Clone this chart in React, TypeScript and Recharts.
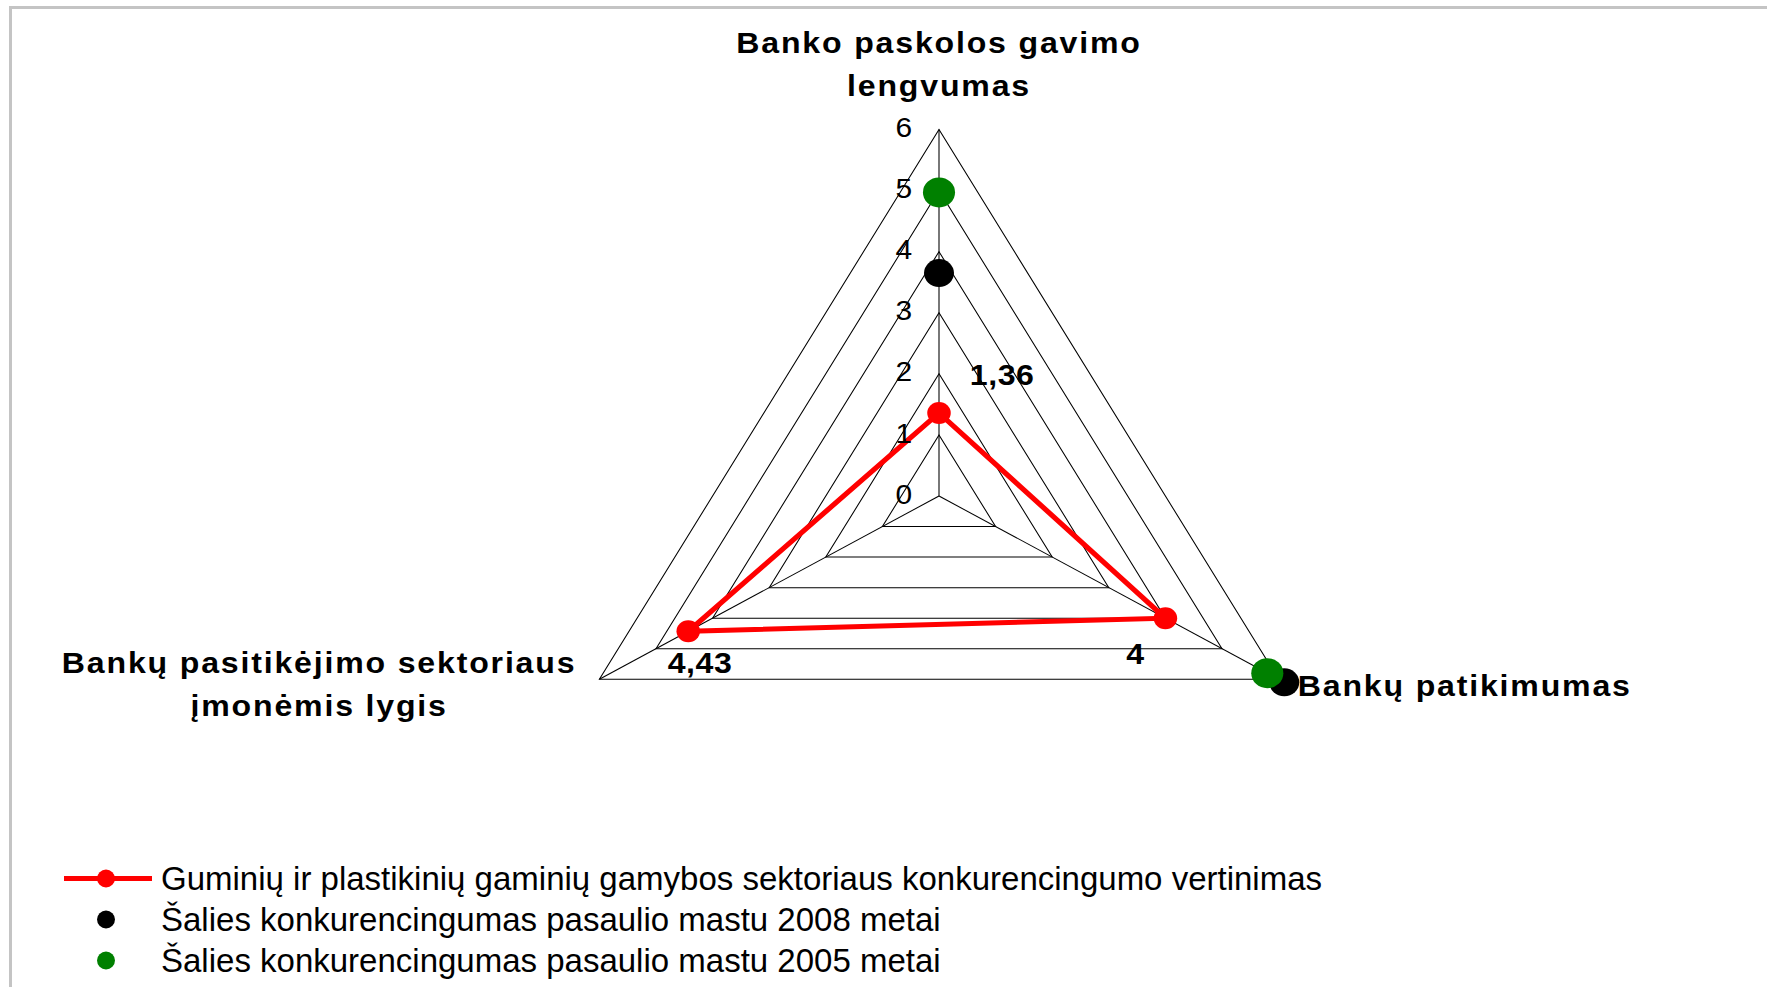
import React from 'react';
import { RadarChart, Radar, PolarGrid, PolarAngleAxis, PolarRadiusAxis, Legend, LabelList } from 'recharts';

const categoryLines = [
  ['Banko paskolos gavimo', 'lengvumas'],
  ['Bankų patikimumas'],
  ['Bankų pasitikėjimo sektoriaus', 'įmonėmis lygis'],
];
const categories = categoryLines.map((l) => l.join(' '));

const sectorValues = [1.36, 4, 4.43];
const values2008 = [3.65, 6.1, null];
const values2005 = [4.97, 5.8, null];
const radiusTicks = [0, 1, 2, 3, 4, 5, 6];

const seriesNames = [
  'Guminių ir plastikinių gaminių gamybos sektoriaus konkurencingumo vertinimas',
  'Šalies konkurencingumas pasaulio mastu 2008 metai',
  'Šalies konkurencingumas pasaulio mastu 2005 metai',
];

const data = categories.map((name, i) => ({
  name,
  sector: sectorValues[i],
  y2008: values2008[i],
  y2005: values2005[i],
}));

const FONT = '"Liberation Sans", Arial, sans-serif';
const RED = '#ff0000';
const GREEN = '#008000';
const CX = 939;
// the original plot is a bit wider than it is tall
const STRETCH = 1.07;

const axisLabelPos = [
  { dx: 0, dy: -79, anchor: 'middle' },
  { dx: 11, dy: 3, anchor: 'start' },
  { dx: -255, dy: -20, anchor: 'middle' },
];
const valueLabelPos = [
  { dx: 59, dy: -38 },
  { dx: -28, dy: 36 },
  { dx: 11, dy: 32 },
];

function AngleTick(props: any) {
  const { x, y, index } = props;
  const pos = axisLabelPos[index];
  const lines = categoryLines[index];
  return (
    <g>
      {lines.map((line, i) => (
        <text
          key={i}
          x={x + pos.dx}
          y={y + pos.dy + i * 43}
          textAnchor={pos.anchor}
          dominantBaseline="central"
          fontFamily={FONT}
          fontWeight="bold"
          fontSize={30}
          letterSpacing={1.7}
          fill="#000"
        >
          {line}
        </text>
      ))}
    </g>
  );
}

function RadiusTick(props: any) {
  const { x, y, payload } = props;
  return (
    <text x={x - 25} y={y - 2} textAnchor="end" dominantBaseline="central" fontFamily={FONT} fontSize={28} fill="#000">
      {payload.value}
    </text>
  );
}

const makeDot = (color: string, r: number) => (props: any) => {
  const { cx, cy, value, index } = props;
  if (value == null || isNaN(cx) || isNaN(cy)) return <g key={`d-${index}`} />;
  return <circle key={`d-${index}`} cx={cx} cy={cy} r={r} fill={color} stroke="none" />;
};

function ValueLabel(props: any) {
  const { x, y, value, index } = props;
  const pos = valueLabelPos[index];
  return (
    <text
      x={x + pos.dx}
      y={y + pos.dy}
      textAnchor="middle"
      dominantBaseline="central"
      fontFamily={FONT}
      fontWeight="bold"
      fontSize={30}
      letterSpacing={0.5}
      fill="#000"
    >
      {String(value).replace('.', ',')}
    </text>
  );
}

const legendColors = [RED, '#000000', GREEN];

function LegendContent() {
  return (
    <div style={{ fontFamily: FONT, fontSize: 33, color: '#000' }}>
      {seriesNames.map((name, i) => (
        <div key={i} style={{ display: 'flex', alignItems: 'center', height: 41 }}>
          <svg width={103} height={41} style={{ flex: 'none' }}>
            {i === 0 && <line x1={6} y1={20.5} x2={94} y2={20.5} stroke={RED} strokeWidth={5} />}
            <circle cx={48} cy={20.5} r={9} fill={legendColors[i]} />
          </svg>
          <span style={{ whiteSpace: 'nowrap' }}>{name}</span>
        </div>
      ))}
    </div>
  );
}

export default function App() {
  return (
    <div style={{ position: 'absolute', left: 0, top: 0, width: 1767, height: 987, overflow: 'hidden', background: '#fff' }}>
      <style>{`.plot svg.recharts-surface { transform: scaleX(${STRETCH}); transform-origin: ${CX}px 0px; }`}</style>
      <div
        style={{
          position: 'absolute',
          left: 9,
          top: 6,
          width: 1850,
          height: 1100,
          border: '3px solid #c4c4c4',
        }}
      />
      <div className="plot" style={{ position: 'absolute', left: 0, top: 0 }}>
        <RadarChart
          width={1767}
          height={987}
          data={data}
          cx={CX}
          cy={496}
          outerRadius={366.5}
          margin={{ top: 0, right: 0, bottom: 0, left: 0 }}
        >
          <PolarGrid gridType="polygon" stroke="#000" strokeWidth={1} />
          <PolarAngleAxis dataKey="name" tick={<AngleTick />} tickLine={false} axisLine={false} />
          <PolarRadiusAxis
            angle={90}
            domain={[0, 6]}
            ticks={radiusTicks as any}
            tickCount={7}
            allowDataOverflow
            axisLine={false}
            tickLine={false}
            tick={<RadiusTick />}
          />
          <Radar
            name={seriesNames[0]}
            dataKey="sector"
            stroke={RED}
            strokeWidth={5}
            fill="none"
            fillOpacity={0}
            dot={makeDot(RED, 11)}
            isAnimationActive={false}
          >
            <LabelList dataKey="sector" content={<ValueLabel />} />
          </Radar>
          <Radar
            name={seriesNames[1]}
            dataKey="y2008"
            stroke="none"
            fill="none"
            fillOpacity={0}
            dot={makeDot('#000000', 14)}
            isAnimationActive={false}
          />
          <Radar
            name={seriesNames[2]}
            dataKey="y2005"
            stroke="none"
            fill="none"
            fillOpacity={0}
            dot={makeDot(GREEN, 15)}
            isAnimationActive={false}
          />
          <Legend
            content={<LegendContent />}
            layout="horizontal"
            verticalAlign="bottom"
            wrapperStyle={{ position: 'absolute', left: 58, top: 858, bottom: 'auto', width: 1400 }}
          />
        </RadarChart>
      </div>
    </div>
  );
}
